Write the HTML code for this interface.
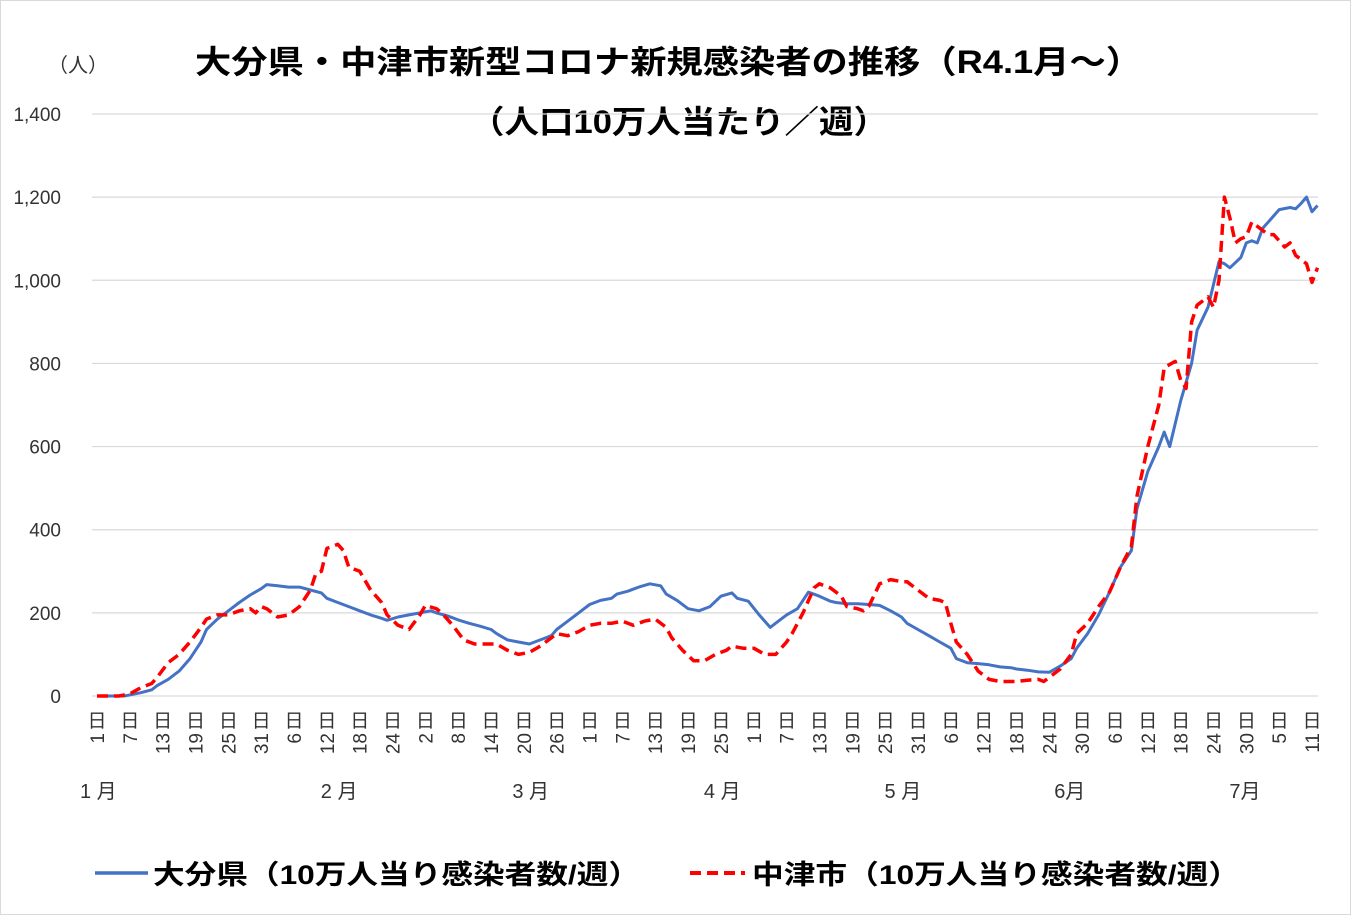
<!DOCTYPE html>
<html><head><meta charset="utf-8">
<style>
body{margin:0;background:#fff;}
svg{display:block;font-family:"Liberation Sans","Noto Sans CJK JP",sans-serif;}
</style></head>
<body>
<svg id="chart" width="1351" height="915" viewBox="0 0 1351 915">
<rect x="0.5" y="0.5" width="1350" height="914" fill="#fff" stroke="#d9d9d9"/>
<text x="195" y="73" font-size="32" font-weight="bold" fill="#000" textLength="947" lengthAdjust="spacingAndGlyphs">大分県・中津市新型コロナ新規感染者の推移（R4.1月～）</text>
<text x="470" y="133" font-size="32" font-weight="bold" fill="#000" textLength="418" lengthAdjust="spacingAndGlyphs">（人口10万人当たり／週）</text>
<text x="48" y="72" font-size="20" fill="#333">（人）</text>
<g id="grid"></g>
<g id="yticks"></g>
<g id="xticks"></g>
<g id="months"></g>
<g id="series"></g>
<g>
<line x1="95" y1="873" x2="148" y2="873" stroke="#4472c4" stroke-width="3.5"/>
<text x="153" y="884" font-size="27" font-weight="bold" fill="#000" textLength="487" lengthAdjust="spacingAndGlyphs">大分県（10万人当り感染者数/週）</text>
<line x1="690" y1="873" x2="745" y2="873" stroke="#ff0000" stroke-width="4" stroke-dasharray="11,6"/>
<text x="752" y="884" font-size="27" font-weight="bold" fill="#000" textLength="488" lengthAdjust="spacingAndGlyphs">中津市（10万人当り感染者数/週）</text>
</g>
</svg>
<script>
const yTicks=[0,200,400,600,800,1000,1200,1400];
const yTickLabels=["0","200","400","600","800","1,000","1,200","1,400"];
const xTickDays=[0,6,12,18,24,30,36,42,48,54,60,66,72,78,84,90,96,102,108,114,120,126,132,138,144,150,156,162,168,174,180,186,192,198,204,210,216,222];
const xTickLabels=["1","7","13","19","25","31","6","12","18","24","2","8","14","20","26","1","7","13","19","25","1","7","13","19","25","31","6","12","18","24","30","6","12","18","24","30","5","11"];
const monthLabels=["1 月","2 月","3 月","4 月","5 月","6月","7月"];
const monthDays=[0,44,79,114,147,178,210];
const oitaDays=[0,5,8,10,11,13,15,17,19,20,22,24,26,28,30,31,33,35,37,39,41,42,44,46,48,50,52,53,55,57,59,61,62,64,66,68,70,72,73,75,77,79,81,83,84,86,88,90,92,94,95,97,99,101,103,104,106,108,110,112,114,116,117,119,121,123,125,126,128,130,132,134,135,137,139,141,143,145,147,148,150,152,154,156,157,159,161,163,165,167,168,170,172,174,176,178,179,181,183,185,187,189,190,192,194,195,196,198,200,201,203,205,206,207,209,210,211,212,213,214,216,218,219,220,221,222,223];
const oitaValues=[0,0,8,15,25,40,60,90,130,160,185,205,225,243,258,268,265,262,262,255,248,235,225,215,205,195,187,182,190,195,200,205,200,193,183,175,168,160,150,135,130,125,135,145,160,180,200,220,230,235,245,252,262,270,265,245,230,210,205,215,240,248,235,228,195,165,185,195,210,250,240,228,225,222,222,220,218,205,190,175,160,145,130,115,90,80,78,75,70,68,65,62,58,57,72,90,115,150,195,250,310,350,450,540,600,635,600,710,800,880,935,1045,1040,1030,1055,1090,1095,1090,1125,1140,1170,1175,1172,1185,1200,1165,1180];
const nakatsuDays=[0,4,6,8,10,11,13,15,17,19,20,22,24,26,28,29,30,31,33,35,37,39,40,41,42,44,45,46,48,50,52,53,55,57,59,60,62,63,65,67,69,72,73,75,77,79,81,83,84,86,88,90,92,94,96,98,100,102,104,105,107,109,111,113,115,116,118,120,122,124,126,127,129,131,132,134,136,137,139,140,141,143,145,147,148,150,152,154,155,156,157,159,161,163,165,167,168,170,172,173,174,176,178,179,181,183,185,187,189,190,192,194,195,197,198,199,200,201,203,204,205,206,207,208,209,210,211,213,214,215,216,217,218,219,220,221,222,223];
const nakatsuValues=[0,0,5,20,30,45,80,100,130,165,185,195,195,205,210,200,215,210,190,195,215,255,295,300,355,365,350,310,300,255,225,195,170,160,195,218,210,200,170,135,125,125,125,110,100,105,120,140,150,145,155,170,175,175,180,170,180,185,165,140,110,85,85,100,110,120,115,115,100,100,130,150,200,260,270,260,240,215,210,205,215,270,280,275,275,255,235,230,225,175,130,100,60,40,35,35,35,38,40,35,45,65,100,150,175,215,250,310,360,480,600,700,790,805,760,740,900,940,960,935,1000,1200,1150,1090,1100,1105,1140,1120,1110,1110,1095,1080,1090,1060,1050,1040,995,1030];

const NS="http://www.w3.org/2000/svg";
const X0=97,DX=5.473,Y0=696,YS=582/1400,GX1=92,GX2=1318;
const xs=d=>X0+d*DX, ys=v=>Y0-v*YS;
function mk(tag,attrs,parent){const e=document.createElementNS(NS,tag);for(const k in attrs)e.setAttribute(k,attrs[k]);parent.appendChild(e);return e;}
const grid=document.getElementById('grid'),yt=document.getElementById('yticks'),xt=document.getElementById('xticks'),mo=document.getElementById('months'),se=document.getElementById('series');
yTicks.forEach((v,i)=>{
 const l=mk('line',{x1:GX1,x2:GX2,y1:ys(v),y2:ys(v),stroke:'#d9d9d9','stroke-width':1.2},grid);
 
 
 const t=mk('text',{x:61,y:ys(v)+7,'text-anchor':'end','font-size':19,fill:'#333'},yt);
 t.textContent=yTickLabels[i];
 
 
});
xTickDays.forEach((d,i)=>{
 const x=xs(d);
 const g=mk('g',{},xt);
 
 
 const k=mk('text',{x:x,y:727,'text-anchor':'middle','font-size':19,fill:'#333',style:'font-family:"Noto Sans CJK JP",sans-serif'},g);
 k.textContent='日';
 const n=mk('text',{x:0,y:0,'text-anchor':'end','font-size':19,fill:'#333',transform:`translate(${x+7},733) rotate(-90)`},g);
 n.textContent=xTickLabels[i];
});
monthLabels.forEach((m,i)=>{
 const t=mk('text',{x:xs(monthDays[i])-17,y:798,'font-size':20,fill:'#333'},mo);
 t.textContent=m;
 
 
});
function path(days,vals){return days.map((d,i)=>(i?'L':'M')+xs(d).toFixed(1)+','+ys(vals[i]).toFixed(1)).join(' ');}
const pb=mk('path',{d:path(oitaDays,oitaValues),fill:'none',stroke:'#4472c4','stroke-width':3,'stroke-linejoin':'round'},se);


const pr=mk('path',{d:path(nakatsuDays,nakatsuValues),fill:'none',stroke:'#ff0000','stroke-width':3.5,'stroke-dasharray':'11,6','stroke-linejoin':'round'},se);


</script>
</body></html>
